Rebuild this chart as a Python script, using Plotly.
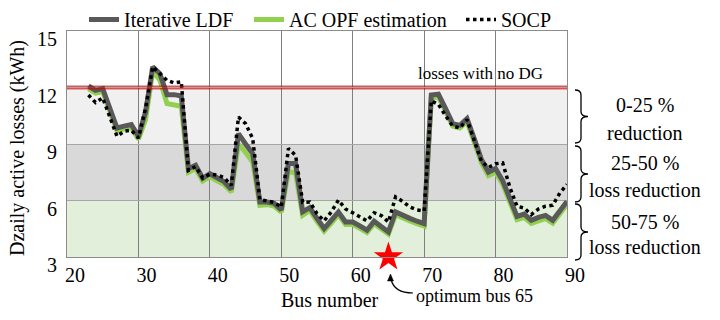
import plotly.graph_objects as go

# Bus numbers along the feeder
bus = [23, 24, 25, 26, 27, 28, 29, 30, 31, 32, 33, 34, 35, 36, 37, 38, 39, 40,
       41, 42, 43, 44, 45, 46, 47, 48, 49, 50, 51, 52, 53, 54, 55, 56, 57, 58,
       59, 60, 61, 62, 63, 64, 65, 66, 67, 68, 69, 70, 71, 72, 73, 74, 75, 76,
       77, 78, 79, 80, 81, 82, 83, 84, 85, 86, 87, 88, 89, 90]

# Daily active losses (kWh) with the DG placed at each bus
ldf = [12.08, 11.85, 11.94, 10.90, 9.85, 9.95, 10.03, 9.41, 10.70, 13.10,
       12.74, 11.62, 11.62, 11.55, 7.69, 7.87, 7.18, 7.42, 7.22, 7.00,
       6.60, 9.55, 9.00, 8.49, 5.92, 5.92, 5.85, 5.50, 7.96, 7.96,
       5.40, 5.62, 5.05, 4.51, 4.95, 5.39, 4.86, 4.86, 4.65, 4.42,
       4.90, 4.60, 4.33, 5.39, 5.20, 5.05, 4.90, 4.77, 11.60, 11.64,
       10.88, 10.08, 9.99, 10.35, 9.30, 8.20, 7.50, 7.70, 7.05, 6.05,
       5.16, 5.28, 4.95, 5.10, 5.21, 4.95, 5.50, 5.95]

ac_opf = [11.93, 11.70, 11.78, 10.70, 9.70, 9.80, 9.88, 9.26, 10.30, 12.85,
          12.40, 11.15, 11.10, 11.00, 7.50, 7.70, 7.03, 7.27, 7.05, 6.85,
          6.45, 9.00, 8.55, 8.05, 5.75, 5.78, 5.70, 5.38, 7.55, 7.45,
          5.22, 5.47, 4.90, 4.38, 4.80, 5.25, 4.73, 4.73, 4.52, 4.30,
          4.77, 4.47, 4.22, 5.25, 5.06, 4.91, 4.77, 4.64, 11.45, 11.50,
          10.74, 9.95, 9.85, 10.20, 9.12, 8.02, 7.32, 7.50, 6.86, 5.86,
          4.98, 5.10, 4.78, 4.92, 5.04, 4.80, 5.34, 5.80]

socp = [11.60, 11.20, 11.45, 10.40, 9.41, 9.68, 9.73, 9.32, 10.90, 13.10,
        12.75, 12.38, 12.24, 12.30, 7.60, 7.80, 7.20, 7.40, 7.35, 7.22,
        6.80, 10.43, 10.08, 9.29, 6.05, 5.97, 5.90, 5.65, 8.76, 8.40,
        5.90, 5.92, 5.30, 4.92, 5.40, 6.02, 5.55, 5.35, 5.12, 4.92,
        5.35, 5.20, 4.86, 6.19, 5.95, 5.65, 5.50, 5.45, 11.30, 11.10,
        10.50, 9.95, 9.85, 10.30, 9.20, 8.10, 7.75, 7.95, 8.00, 6.70,
        5.70, 5.60, 5.25, 5.55, 5.70, 5.75, 6.40, 6.85]

optimum_bus = 65
no_dg_losses = 12.0

# Loss-reduction bands: (lower, upper, fill, label lines)
bands = [
    (9, 11.93, "#f0f0f0", ["0-25 %", "reduction"]),
    (6, 9, "#d9d9d9", ["25-50 %", "loss reduction"]),
    (3, 6, "#e2efda", ["50-75 %", "loss reduction"]),
]

FONT = "Liberation Serif"

# Plot area in pixels (720x320 page)
PL, PR, PT, PB = 67, 567, 31, 257


def px_x(p):
    return (p - PL) / (PR - PL)


def px_y(p):
    return (PB - p) / (PB - PT)


fig = go.Figure()

fig.add_trace(go.Scatter(
    x=bus, y=ac_opf, mode="lines", name="AC OPF estimation",
    line=dict(color="#92d050", width=5), legend="legend2"))
fig.add_trace(go.Scatter(
    x=bus, y=ldf, mode="lines", name="Iterative LDF",
    line=dict(color="#595959", width=5), legend="legend"))
fig.add_trace(go.Scatter(
    x=bus, y=socp, mode="lines", name="SOCP",
    line=dict(color="black", width=3.5, dash="3.5px,3.5px"),
    legend="legend3"))
fig.add_trace(go.Scatter(
    x=[optimum_bus], y=[3], mode="markers", showlegend=False,
    marker=dict(symbol="star", size=22, color="red", line=dict(width=0)),
    cliponaxis=False))

shapes = []
for lo, hi, col, _ in bands:
    shapes.append(dict(type="rect", xref="paper", yref="y", x0=0, x1=1,
                       y0=lo, y1=hi, fillcolor=col, line=dict(width=0),
                       layer="below"))
# Double red line marking the losses without DG
for off in (0.07, -0.07):
    shapes.append(dict(type="line", xref="paper", yref="y", x0=0, x1=1,
                       y0=no_dg_losses + off, y1=no_dg_losses + off,
                       line=dict(color="#d00000", width=1)))

# Curly braces on the right of each band
brace_spans = [(90, 143), (146, 202), (204, 260)]
for top, bot in brace_spans:
    t, b = px_y(top), px_y(bot)
    m = (t + b) / 2
    c = 5 / (PB - PT)
    path = (f"M 8,{t} Q 14,{t} 14,{t - c} L 14,{m + c} Q 14,{m} 21,{m} "
            f"Q 14,{m} 14,{m - c} L 14,{b + c} Q 14,{b} 8,{b}")
    shapes.append(dict(type="path", xref="paper", yref="paper",
                       xsizemode="pixel", xanchor=1, path=path,
                       line=dict(color="black", width=1.3)))

# Curved pointer from the caption to the star
shapes.append(dict(type="path", xref="paper", yref="paper",
                   path=(f"M {px_x(391)},{px_y(279)} Q {px_x(394)},{px_y(293)} "
                         f"{px_x(413)},{px_y(293)}"),
                   line=dict(color="black", width=1.2)))
shapes.append(dict(type="path", xref="paper", yref="paper",
                   path=(f"M {px_x(387.5)},{px_y(281)} L {px_x(390.5)},{px_y(274)} "
                         f"L {px_x(393.5)},{px_y(281)} Z"),
                   fillcolor="black", line=dict(color="black", width=0.5)))


def note(txt, x, y, size=20, xanchor="center", angle=0):
    return dict(text=txt, xref="paper", yref="paper", x=px_x(x), y=px_y(y),
                showarrow=False, xanchor=xanchor, yanchor="middle",
                textangle=angle,
                font=dict(family=FONT, size=size, color="black"))


annotations = []
label_rows = [105, 133, 163, 190, 222, 247]
label_texts = [t for _, _, _, lines in bands for t in lines]
for py, txt in zip(label_rows, label_texts):
    annotations.append(note(txt, 645, py))
annotations.append(note("losses with no DG", 480, 73, size=17))
annotations.append(note("Bus number", 330, 300))
annotations.append(note(f"optimum bus {optimum_bus}", 414, 296, size=18,
                        xanchor="left"))
annotations.append(note("Dzaily active losses (kWh)", 17, 148, angle=-90))


def legend_box(left_px):
    return dict(orientation="h", xref="container", yref="container",
                x=left_px / 720, xanchor="left", y=1.0, yanchor="top",
                font=dict(family=FONT, size=20),
                bgcolor="rgba(0,0,0,0)", itemwidth=30, tracegroupgap=0)


fig.update_layout(
    width=720, height=320,
    margin=dict(l=PL, r=720 - PR, t=PT, b=320 - PB, autoexpand=False),
    paper_bgcolor="white", plot_bgcolor="white",
    font=dict(family=FONT, size=20, color="black"),
    showlegend=True,
    legend=legend_box(84),
    legend2=legend_box(249),
    legend3=legend_box(461),
    shapes=shapes, annotations=annotations,
)
fig.update_xaxes(range=[20, 90], tickvals=[20, 30, 40, 50, 60, 70, 80, 90],
                 showgrid=True, gridcolor="#7f7f7f", gridwidth=1,
                 showline=True, linecolor="#8c8c8c", mirror=True,
                 zeroline=False, ticks="", ticklabelshift=8,
                 tickfont=dict(family=FONT, size=20))
fig.update_yaxes(range=[3, 15], tickvals=[3, 6, 9, 12, 15],
                 showgrid=True, gridcolor="#a6a6a6", gridwidth=1,
                 showline=True, linecolor="#8c8c8c", mirror=True,
                 zeroline=False, ticks="", ticklabelshift=8,
                 ticklabelstandoff=5,
                 tickfont=dict(family=FONT, size=20))

fig.write_html("out.html")
